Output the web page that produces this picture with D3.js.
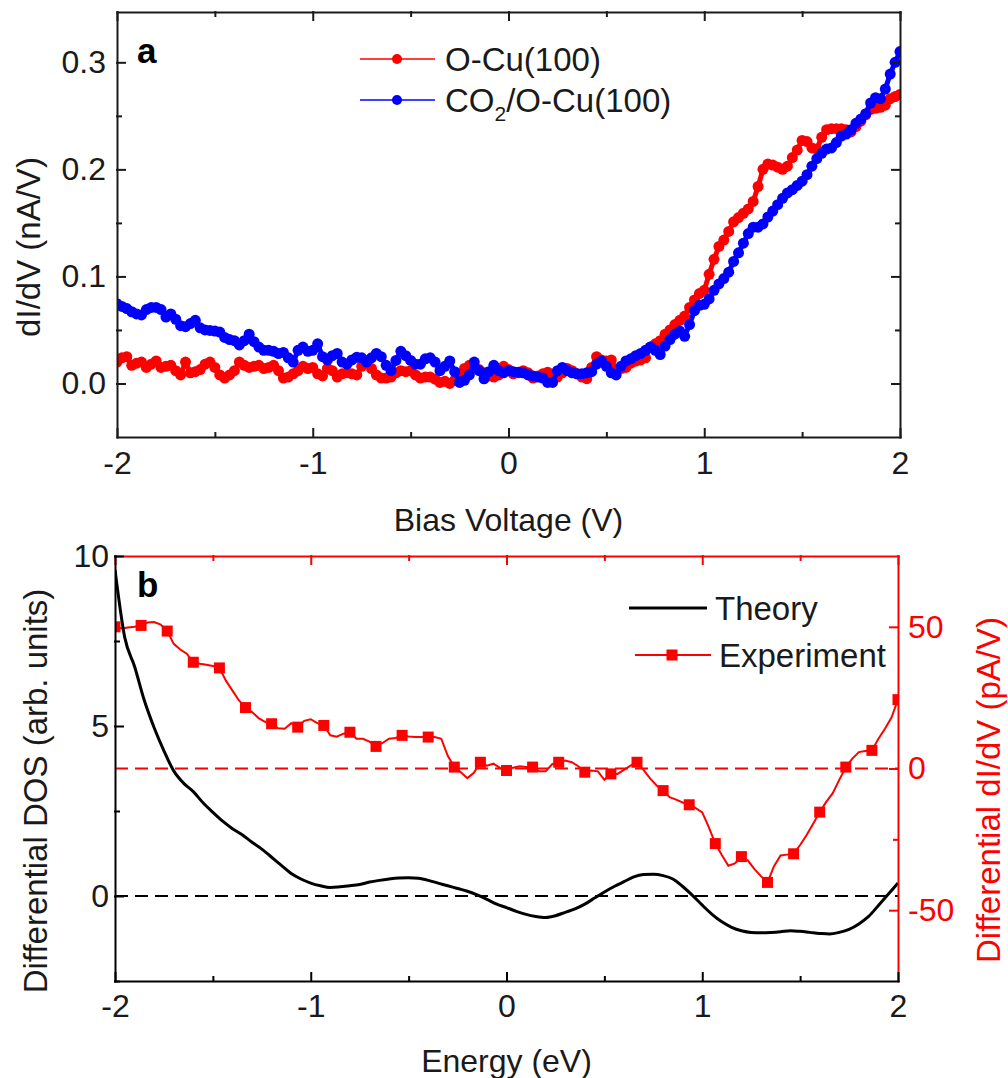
<!DOCTYPE html>
<html>
<head>
<meta charset="utf-8">
<script src="https://cdn.jsdelivr.net/npm/d3@7"></script>
<style>
body { margin: 0; background: #fff; }
text { font-family: "Liberation Sans", Arial, sans-serif; }
</style>
</head>
<body>
<div id="chart-area"></div>
<script>
// ---- panel a : dI/dV spectra, bias grid -2..2 V step 0.025 ----
const bias = d3.range(161).map(i => -2 + i * 0.025)
const oCu = [
  0.020, 0.024, 0.025, 0.017, 0.019, 0.020, 0.015, 0.018, 0.021, 0.015,
  0.016, 0.017, 0.012, 0.008, 0.020, 0.010, 0.011, 0.013, 0.018, 0.020,
  0.015, 0.008, 0.005, 0.008, 0.012, 0.020, 0.017, 0.015, 0.016, 0.017,
  0.014, 0.015, 0.017, 0.012, 0.005, 0.006, 0.009, 0.012, 0.016, 0.014,
  0.015, 0.009, 0.007, 0.014, 0.012, 0.006, 0.009, 0.010, 0.009, 0.008,
  0.016, 0.021, 0.014, 0.008, 0.005, 0.005, 0.006, 0.010, 0.012, 0.011,
  0.012, 0.008, 0.005, 0.006, 0.006, 0.004, 0.001, 0.002, 0.000, 0.003,
  0.009, 0.014, 0.017, 0.016, 0.013, 0.010, 0.007, 0.006, 0.008, 0.016,
  0.013, 0.009, 0.010, 0.012, 0.010, 0.005, 0.007, 0.009, 0.0105, 0.008,
  0.006, 0.010, 0.014, 0.012, 0.009, 0.006, 0.0045, 0.015, 0.025, 0.022,
  0.021, 0.022, 0.013, 0.014, 0.015, 0.019, 0.021, 0.022, 0.024, 0.034,
  0.037, 0.040, 0.046, 0.050, 0.055, 0.059, 0.063, 0.071, 0.078, 0.084,
  0.087, 0.102, 0.116, 0.128, 0.134, 0.142, 0.151, 0.155, 0.159, 0.163,
  0.170, 0.184, 0.200, 0.205, 0.204, 0.202, 0.200, 0.203, 0.211, 0.218,
  0.227, 0.226, 0.220, 0.219, 0.230, 0.237, 0.238, 0.238, 0.238, 0.237,
  0.235, 0.240, 0.245, 0.251, 0.256, 0.257, 0.258, 0.260, 0.266, 0.268,
  0.270
]
const co2 = [
  0.0745, 0.072, 0.070, 0.067, 0.065, 0.064, 0.069, 0.071, 0.071, 0.069,
  0.062, 0.065, 0.060, 0.054, 0.053, 0.056, 0.059, 0.052, 0.050, 0.0495,
  0.049, 0.048, 0.043, 0.041, 0.040, 0.036, 0.040, 0.046, 0.039, 0.034,
  0.031, 0.031, 0.030, 0.028, 0.029, 0.024, 0.020, 0.031, 0.034, 0.030,
  0.031, 0.037, 0.025, 0.022, 0.026, 0.028, 0.020, 0.018, 0.022, 0.0245,
  0.024, 0.020, 0.024, 0.028, 0.025, 0.017, 0.012, 0.0215, 0.030, 0.026,
  0.0215, 0.018, 0.018, 0.023, 0.024, 0.020, 0.012, 0.016, 0.021, 0.011,
  0.001, 0.003, 0.008, 0.020, 0.012, 0.0044, 0.011, 0.017, 0.012, 0.010,
  0.012, 0.011, 0.0105, 0.010, 0.008, 0.007, 0.006, 0.005, 0.001, 0.001,
  0.012, 0.015, 0.012, 0.010, 0.009, 0.009, 0.010, 0.011, 0.018, 0.021,
  0.016, 0.010, 0.008, 0.016, 0.021, 0.023, 0.026, 0.028, 0.031, 0.034,
  0.031, 0.027, 0.035, 0.041, 0.046, 0.049, 0.044, 0.055, 0.068, 0.073,
  0.074, 0.079, 0.087, 0.093, 0.098, 0.104, 0.114, 0.122, 0.131, 0.140,
  0.146, 0.146, 0.149, 0.1555, 0.161, 0.167, 0.173, 0.178, 0.181, 0.185,
  0.189, 0.195, 0.203, 0.210, 0.215, 0.219, 0.220, 0.225, 0.231, 0.233,
  0.237, 0.243, 0.247, 0.252, 0.262, 0.267, 0.266, 0.275, 0.289, 0.300,
  0.310
]

// ---- panel b : theory (step 0.05 eV) and experiment (step 1/30 eV) ----
const energyTheory = d3.range(81).map(i => -2 + i * 0.05)
const theory = [
  9.6, 7.6, 6.75, 5.75, 4.95, 4.27, 3.68, 3.32, 3.07, 2.74,
  2.46, 2.2, 1.98, 1.8, 1.58, 1.38, 1.14, 0.9, 0.66, 0.5,
  0.38, 0.3, 0.25, 0.27, 0.30, 0.34, 0.41, 0.46, 0.5, 0.53,
  0.54, 0.52, 0.46, 0.38, 0.3, 0.22, 0.14, 0.03, -0.1, -0.24,
  -0.34, -0.45, -0.54, -0.6, -0.63, -0.58, -0.48, -0.38, -0.24, -0.06,
  0.12, 0.28, 0.42, 0.56, 0.63, 0.64, 0.6, 0.5, 0.28, 0.02,
  -0.27, -0.54, -0.76, -0.92, -1.02, -1.07, -1.08, -1.07, -1.05, -1.02,
  -1.04, -1.07, -1.1, -1.12, -1.07, -0.98, -0.82, -0.6, -0.28, 0.05,
  0.38
]
const energyExp = d3.range(121).map(i => -2 + i / 30)
const experiment = [
  50.0, 49.4, 49.8, 50.0, 50.5, 51.5, 51.7, 50.8, 48.5, 44.0,
  42.0, 40.5, 37.5, 37.0, 36.6, 36.2, 35.5, 31.0, 27.5, 24.0,
  21.5, 19.9, 17.8, 16.5, 15.8, 14.2, 14.0, 16.0, 14.6, 16.8,
  17.4, 16.0, 15.2, 11.7, 11.2, 12.3, 12.8, 10.5, 10.5, 9.5,
  7.8, 9.0, 10.5, 10.8, 11.7, 11.3, 11.1, 11.1, 11.1, 11.1,
  10.5, 4.5, 0.5, -1.3, -3.4, -1.5, 2.2, 1.0, 1.7, 0.2,
  -0.7, 0.3, 0.8, 0.5, 0.5, -1.0, -1.0, 1.5, 2.2, 2.8,
  2.2, 0.8, -1.3, -0.7, -1.0, -4.0, -1.9, -1.9, -0.5, 1.0,
  2.2, -0.5, -3.5, -6.0, -7.8, -10.1, -11.0, -12.0, -12.8, -14.0,
  -15.5, -20.7, -26.5, -30.5, -34.3, -33.5, -31.1, -32.5, -35.5, -38.0,
  -40.2, -34.5, -30.7, -30.4, -30.1, -27.0, -23.5, -19.5, -15.4, -11.8,
  -8.7, -4.0, 0.5, 3.5, 5.8, 6.2, 6.4, 10.5, 14.0, 18.0,
  24.3
]

// ---- ticks ----
const xTicks = [-2, -1, 0, 1, 2]
const xLabels = ["-2", "-1", "0", "1", "2"]
const xMinor = [-1.5, -0.5, 0.5, 1.5]
const aTicks = [0, 0.1, 0.2, 0.3]
const aLabels = ["0.0", "0.1", "0.2", "0.3"]
const aMinor = [0.05, 0.15, 0.25]
const dosTicks = [0, 5, 10]
const dosLabels = ["0", "5", "10"]
const dosMinor = [-2.5, 2.5, 7.5]
const expTicks = [-50, 0, 50]
const expLabels = ["-50", "0", "50"]
const expMinor = [-25, 25]

const RED = "#ff0000", BLUE = "#0000ff", INK = "#1a1a1a"
const A = { LEFT: 117, RIGHT: 900, TOP: 12, BOTTOM: 437 }
const B = { LEFT: 115, RIGHT: 898, TOP: 556, BOTTOM: 981 }
const TICK_FONT = 32

const svg = d3.select("#chart-area").append("svg")
    .attr("width", 1008)
    .attr("height", 1078)

// helper: one side of a frame, inward ticks, major + minor
function side(gen, scale, pos, major, minor, labels, color, pad) {
  const g = svg.append("g").attr("transform", pos)
  g.call(gen(scale).tickValues(major).tickSize(-8).tickSizeOuter(0).tickPadding(pad)
    .tickFormat(d => labels ? labels[major.indexOf(d)] : ""))
  g.append("g").call(gen(scale).tickValues(minor).tickSize(-4).tickSizeOuter(0).tickFormat(""))
    .select(".domain").remove()
  g.attr("font-size", TICK_FONT).attr("font-family", "'Liberation Sans', Arial, sans-serif")
  g.selectAll("path,line").attr("stroke", color).attr("stroke-width", 2).attr("stroke-linecap", "square")
  g.selectAll("text").attr("fill", color === RED ? RED : INK)
    .attr("font-size", TICK_FONT).style("font-size", TICK_FONT + "px")
  return g
}

// ================= panel a =================
const xA = d3.scaleLinear().domain([-2, 2]).range([A.LEFT, A.RIGHT])
const yA = d3.scaleLinear().domain([-0.05, 0.347]).range([A.BOTTOM, A.TOP])

svg.append("clipPath").attr("id", "clipA").append("rect")
    .attr("x", A.LEFT).attr("y", A.TOP).attr("width", A.RIGHT - A.LEFT).attr("height", A.BOTTOM - A.TOP)

const lineA = d3.line().x((d, i) => xA(bias[i])).y(d => yA(d))
const dataA = svg.append("g").attr("clip-path", "url(#clipA)")
;[[oCu, RED], [co2, BLUE]].forEach(([vals, col]) => {
  dataA.append("path").datum(vals).attr("d", lineA)
      .attr("fill", "none").attr("stroke", col).attr("stroke-width", 5)
      .attr("stroke-linejoin", "round")
  dataA.append("g").selectAll("circle").data(vals).enter().append("circle")
      .attr("cx", (d, i) => xA(bias[i]))
      .attr("cy", d => yA(d))
      .attr("r", 5.5)
      .attr("fill", col)
})

side(d3.axisBottom, xA, `translate(0,${A.BOTTOM})`, xTicks, xMinor, xLabels, INK, 14)
side(d3.axisTop, xA, `translate(0,${A.TOP})`, xTicks, xMinor, null, INK, 3)
side(d3.axisLeft, yA, `translate(${A.LEFT},0)`, aTicks, aMinor, aLabels, INK, 11)
side(d3.axisRight, yA, `translate(${A.RIGHT},0)`, aTicks, aMinor, null, INK, 3)

// legend a
const legA = svg.append("g")
legA.append("line").attr("x1", 360).attr("x2", 435).attr("y1", 59).attr("y2", 59).attr("stroke", RED).attr("stroke-width", 1.5)
legA.append("circle").attr("cx", 397).attr("cy", 59).attr("r", 5).attr("fill", RED)
legA.append("text").attr("x", 445).attr("y", 71).style("font-size", "33px").attr("fill", INK).text("O-Cu(100)")
legA.append("line").attr("x1", 360).attr("x2", 435).attr("y1", 100).attr("y2", 100).attr("stroke", BLUE).attr("stroke-width", 1.5)
legA.append("circle").attr("cx", 397).attr("cy", 100).attr("r", 5).attr("fill", BLUE)
const t2 = legA.append("text").attr("x", 445).attr("y", 112).style("font-size", "33px").attr("fill", INK)
t2.append("tspan").text("CO")
t2.append("tspan").attr("dy", 9).style("font-size", "21px").text("2")
t2.append("tspan").attr("dy", -9).text("/O-Cu(100)")

svg.append("text").attr("x", 137).attr("y", 63).style("font-size", "35px").style("font-weight", "bold")
    .attr("fill", "#000").text("a")

svg.append("text").attr("x", (A.LEFT + A.RIGHT) / 2).attr("y", 531).attr("text-anchor", "middle")
    .style("font-size", "32px").attr("fill", INK).text("Bias Voltage (V)")
svg.append("text").attr("transform", "translate(40,247) rotate(-90)").attr("text-anchor", "middle")
    .style("font-size", "33px").attr("fill", INK).text("dI/dV (nA/V)")

// ================= panel b =================
const xB = d3.scaleLinear().domain([-2, 2]).range([B.LEFT, B.RIGHT])
const yDos = d3.scaleLinear().domain([-2.5, 10]).range([B.BOTTOM, B.TOP])
const yExp = d3.scaleLinear().domain([-75, 75]).range([B.BOTTOM, B.TOP])

svg.append("clipPath").attr("id", "clipB").append("rect")
    .attr("x", B.LEFT).attr("y", B.TOP).attr("width", B.RIGHT - B.LEFT).attr("height", B.BOTTOM - B.TOP)
const dataB = svg.append("g").attr("clip-path", "url(#clipB)")

// zero references
dataB.append("line").attr("x1", B.LEFT).attr("x2", B.RIGHT).attr("y1", yDos(0)).attr("y2", yDos(0))
    .attr("stroke", "#000").attr("stroke-width", 2).attr("stroke-dasharray", "13,7")
dataB.append("line").attr("x1", B.LEFT).attr("x2", B.RIGHT).attr("y1", yExp(0)).attr("y2", yExp(0))
    .attr("stroke", RED).attr("stroke-width", 2).attr("stroke-dasharray", "13,7")

dataB.append("path").datum(experiment)
    .attr("d", d3.line().x((d, i) => xB(energyExp[i])).y(d => yExp(d)))
    .attr("fill", "none").attr("stroke", RED).attr("stroke-width", 2)
dataB.append("g").selectAll("rect").data(experiment.filter((d, i) => i % 4 === 0)).enter().append("rect")
    .attr("x", (d, i) => xB(energyExp[i * 4]) - 5.5)
    .attr("y", d => yExp(d) - 5.5)
    .attr("width", 11).attr("height", 11)
    .attr("fill", RED)

dataB.append("path").datum(theory)
    .attr("d", d3.line().curve(d3.curveMonotoneX).x((d, i) => xB(energyTheory[i])).y(d => yDos(d)))
    .attr("fill", "none").attr("stroke", "#000").attr("stroke-width", 3)

side(d3.axisTop, xB, `translate(0,${B.TOP})`, xTicks, xMinor, null, RED, 3)
side(d3.axisRight, yExp, `translate(${B.RIGHT},0)`, expTicks, expMinor, expLabels, RED, 10)
side(d3.axisBottom, xB, `translate(0,${B.BOTTOM})`, xTicks, xMinor, xLabels, "#000", 13)
side(d3.axisLeft, yDos, `translate(${B.LEFT},0)`, dosTicks, dosMinor, dosLabels, "#000", 6)

// legend b
const legB = svg.append("g")
legB.append("line").attr("x1", 629).attr("x2", 707).attr("y1", 608).attr("y2", 608).attr("stroke", "#000").attr("stroke-width", 3)
legB.append("text").attr("x", 715).attr("y", 620).style("font-size", "33px").attr("fill", INK).text("Theory")
legB.append("line").attr("x1", 635).attr("x2", 711).attr("y1", 655).attr("y2", 655).attr("stroke", RED).attr("stroke-width", 2)
legB.append("rect").attr("x", 666.5).attr("y", 649.5).attr("width", 11).attr("height", 11).attr("fill", RED)
legB.append("text").attr("x", 719).attr("y", 667).style("font-size", "33px").attr("fill", INK).text("Experiment")

svg.append("text").attr("x", 137).attr("y", 597).style("font-size", "35px").style("font-weight", "bold")
    .attr("fill", "#000").text("b")

svg.append("text").attr("x", (B.LEFT + B.RIGHT) / 2).attr("y", 1072).attr("text-anchor", "middle")
    .style("font-size", "32px").attr("fill", INK).text("Energy (eV)")
svg.append("text").attr("transform", "translate(47,791) rotate(-90)").attr("text-anchor", "middle")
    .style("font-size", "33px").attr("fill", INK).text("Differential DOS (arb. units)")
svg.append("text").attr("transform", "translate(1000,790) rotate(-90)").attr("text-anchor", "middle")
    .style("font-size", "33px").attr("fill", RED).text("Differential dI/dV (pA/V)")
</script>
</body>
</html>
